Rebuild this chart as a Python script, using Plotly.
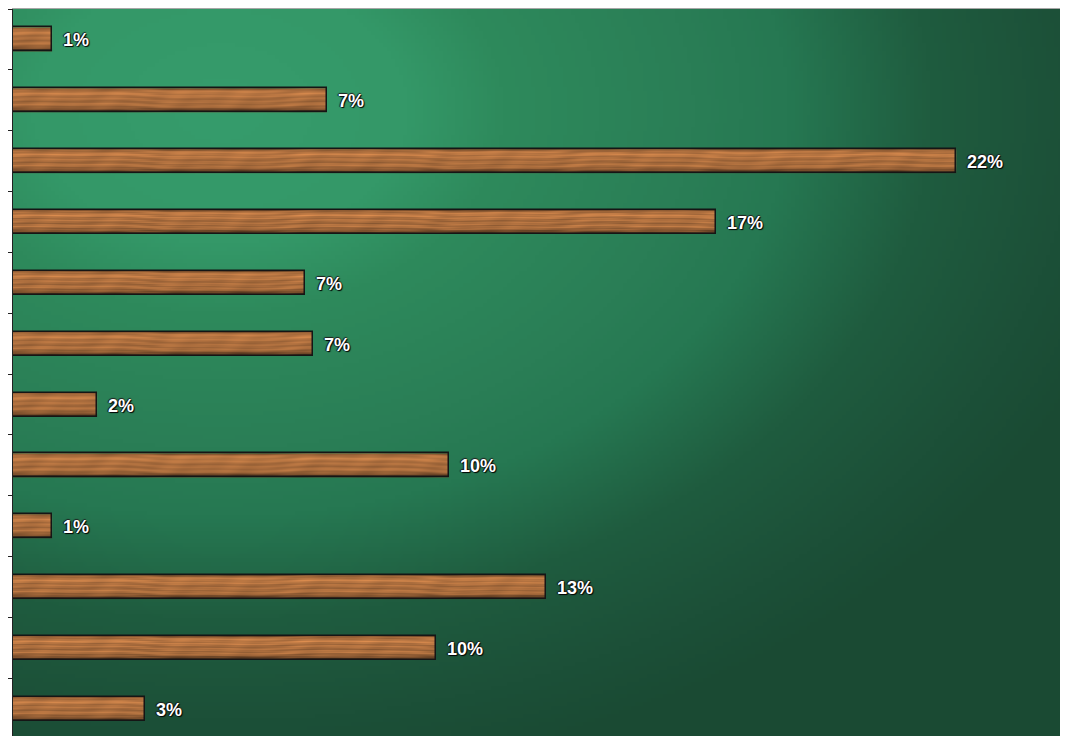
import base64
import struct
import zlib

import numpy as np
import plotly.graph_objects as go

# ---- data (percent shares, top to bottom) ----
categories = [f"Item {i + 1}" for i in range(12)]
values = [0.92, 7.39, 22.2, 16.54, 6.87, 7.06, 1.98, 10.26, 0.92, 12.54, 9.95, 3.1]
labels = [f"{v:.0f}%" for v in values]
positions = list(range(len(values)))

W, H = 1068, 728
ML, MT = 5, 1
BAR_W = 0.395


def png_uri(arr):
    arr = np.clip(arr, 0, 255).astype(np.uint8)
    h, w, _ = arr.shape
    raw = b"".join(b"\x00" + arr[i].tobytes() for i in range(h))

    def chunk(t, d):
        c = struct.pack(">I", len(d)) + t + d
        return c + struct.pack(">I", zlib.crc32(t + d) & 0xFFFFFFFF)

    png = (b"\x89PNG\r\n\x1a\n"
           + chunk(b"IHDR", struct.pack(">IIBBBBB", w, h, 8, 2, 0, 0, 0))
           + chunk(b"IDAT", zlib.compress(raw, 9))
           + chunk(b"IEND", b""))
    return "data:image/png;base64," + base64.b64encode(png).decode()


# ---- background gradient (style only), in screen pixel space ----
PW, PH = 1063, 727
gw, gh = 266, 182
sx = 13 + (np.arange(gw) + 0.5) / gw * PW
sy = 9 + (np.arange(gh) + 0.5) / gh * PH
X, Y = np.meshgrid(sx, sy)
t = np.sqrt(((X - 220) / 950) ** 2 + ((Y - 110) / 680) ** 2)
stops_t = [0.0, 0.2, 0.3, 0.5, 0.6, 0.75, 0.9, 1.0, 2.0]
stops_c = [(54, 156, 108), (52, 152, 104), (46, 138, 92), (42, 126, 86),
           (38, 120, 82), (31, 92, 63), (28, 80, 56), (26, 74, 51), (26, 74, 51)]
bg = np.zeros((gh, gw, 3))
for k in range(3):
    bg[..., k] = np.interp(t, stops_t, [c[k] for c in stops_c])
bg_uri = png_uri(bg)

# ---- wood texture (style only), native bar pixel scale ----
th, tw = 24, 960
v = (np.arange(th) / (th - 1))[:, None]
xp = np.arange(tw)[None, :].astype(float)
prof = np.interp(v, [0, 0.06, 0.2, 0.35, 0.55, 0.7, 0.82, 0.9, 1.0],
                 [0.48, 0.68, 0.76, 0.69, 0.65, 0.69, 0.60, 0.46, 0.30])
s1 = np.sin(2 * np.pi * (v * 4.5 + 0.35 * np.sin(2 * np.pi * xp / 270)
                         + 0.12 * np.sin(2 * np.pi * xp / 95 + 0.7)))
s2 = np.sin(2 * np.pi * (v * 10 + 0.25 * np.sin(2 * np.pi * xp / 160 + 1.3)))
s3 = np.sin(2 * np.pi * xp / 41 + v * 5) * np.sin(2 * np.pi * xp / 133 + 0.4)
b = prof + 0.055 * s1 + 0.035 * s2 + 0.03 * s3
wood = np.stack([255 * b * 1.0, 255 * b * 0.64, 255 * b * 0.36], axis=-1)
wood_uri = png_uri(wood)

images = [dict(source=bg_uri, xref="paper", yref="paper", x=0, y=1,
               sizex=1, sizey=1, xanchor="left", yanchor="top",
               sizing="stretch", layer="below")]
for p, val in zip(positions, values):
    images.append(dict(source=wood_uri, xref="x", yref="y", x=0, y=p,
                       sizex=val, sizey=BAR_W, xanchor="left", yanchor="middle",
                       sizing="fill", layer="below"))

fig = go.Figure()
fig.add_trace(go.Bar(
    x=values, y=positions, orientation="h", width=BAR_W,
    customdata=categories, hovertemplate="%{customdata}: %{x}%<extra></extra>",
    marker=dict(color="rgba(0,0,0,0)", line=dict(color="#151515", width=1.5)),
))

annotations = []
for p, val, lab in zip(positions, values, labels):
    annotations.append(dict(
        x=val, y=p, xref="x", yref="y", text=lab, showarrow=False,
        xanchor="left", yanchor="middle", xshift=9, yshift=-1,
        font=dict(family="Liberation Sans, Arial, sans-serif", size=18,
                  color="white", weight="bold",
                  shadow="1px 1px 1px #000, -1px 0px 1px #111, 0px -1px 1px #222"),
    ))

fig.update_layout(
    width=W, height=H, autosize=False,
    margin=dict(l=ML, r=0, t=MT, b=0, pad=0),
    paper_bgcolor="white", plot_bgcolor="rgba(0,0,0,0)",
    showlegend=False, bargap=0,
    images=images, annotations=annotations,
    xaxis=dict(range=[0, 25.02], side="top", showline=True, linecolor="#a6a6a6",
               linewidth=2, showgrid=False, zeroline=False, showticklabels=False,
               ticks=""),
    yaxis=dict(range=[11.447, -0.5], tickvals=[i - 0.5 for i in range(13)],
               ticks="outside", ticklen=5, tickcolor="#222", tickwidth=1,
               showticklabels=False, showline=True, linecolor="#222",
               linewidth=1, showgrid=False, zeroline=False),
)

fig.write_html("out.html")
